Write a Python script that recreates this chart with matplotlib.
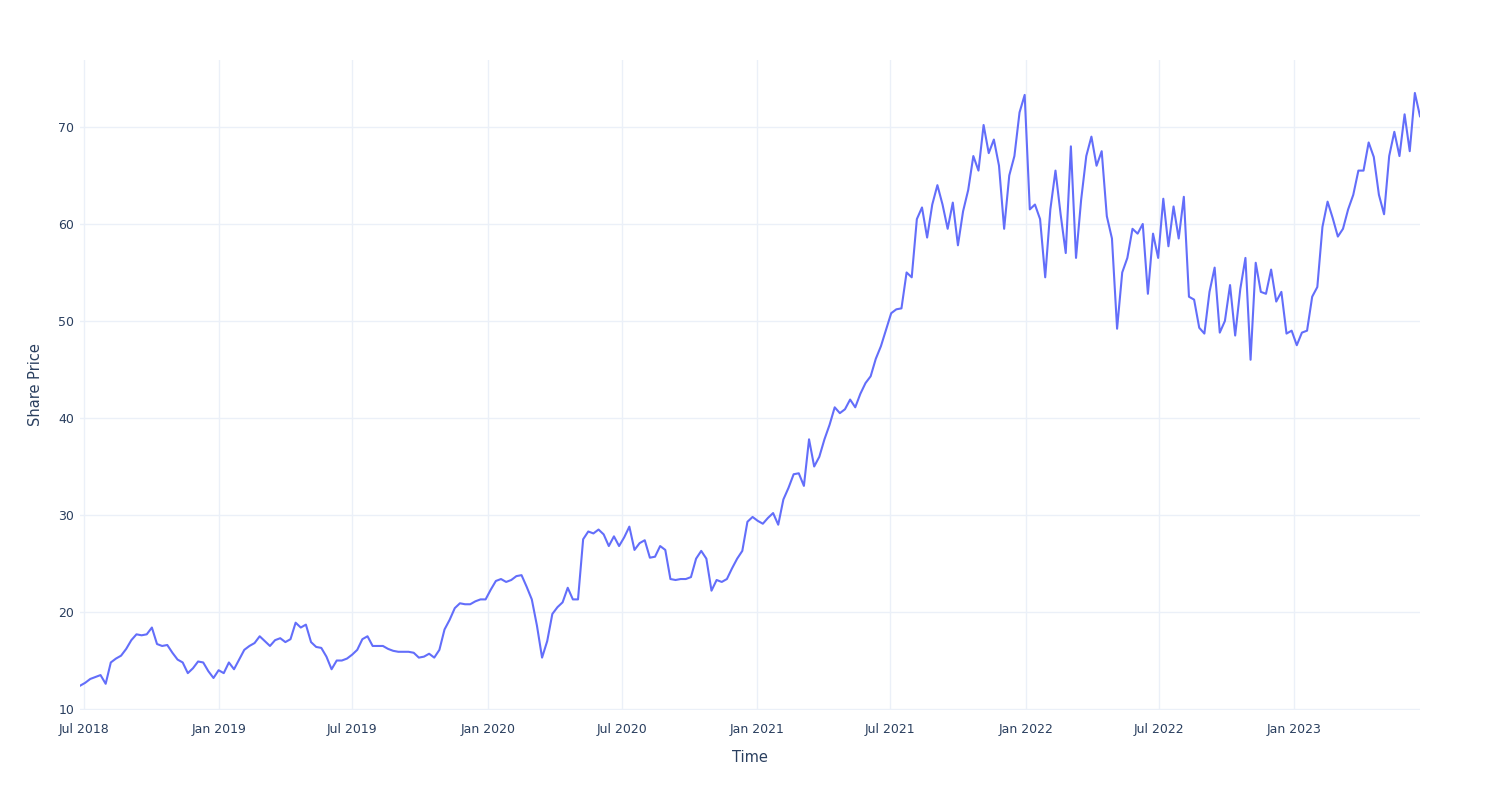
import matplotlib
matplotlib.use("Agg")
import matplotlib.pyplot as plt
import matplotlib.dates as mdates
import pandas as pd

# weekly closing prices
start_date = "2018-06-26"
end_date = "2023-06-21"
share_price = [
    12.4, 12.7, 13.1, 13.3, 13.5, 12.6, 14.8, 15.2, 15.5, 16.2,
    17.1, 17.7, 17.6, 17.7, 18.4, 16.7, 16.5, 16.6, 15.8, 15.1,
    14.8, 13.7, 14.2, 14.9, 14.8, 13.9, 13.2, 14.0, 13.7, 14.8,
    14.1, 15.1, 16.1, 16.5, 16.8, 17.5, 17.0, 16.5, 17.1, 17.3,
    16.9, 17.2, 18.9, 18.4, 18.7, 16.9, 16.4, 16.3, 15.4, 14.1,
    15.0, 15.0, 15.2, 15.6, 16.1, 17.2, 17.5, 16.5, 16.5, 16.5,
    16.2, 16.0, 15.9, 15.9, 15.9, 15.8, 15.3, 15.4, 15.7, 15.3,
    16.1, 18.2, 19.2, 20.4, 20.9, 20.8, 20.8, 21.1, 21.3, 21.3,
    22.3, 23.2, 23.4, 23.1, 23.3, 23.7, 23.8, 22.6, 21.3, 18.6,
    15.3, 17.0, 19.8, 20.5, 21.0, 22.5, 21.3, 21.3, 27.5, 28.3,
    28.1, 28.5, 28.0, 26.8, 27.8, 26.8, 27.7, 28.8, 26.4, 27.1,
    27.4, 25.6, 25.7, 26.8, 26.4, 23.4, 23.3, 23.4, 23.4, 23.6,
    25.5, 26.3, 25.5, 22.2, 23.3, 23.1, 23.4, 24.5, 25.5, 26.3,
    29.3, 29.8, 29.4, 29.1, 29.7, 30.2, 29.0, 31.6, 32.8, 34.2,
    34.3, 33.0, 37.8, 35.0, 36.0, 37.8, 39.3, 41.1, 40.5, 40.9,
    41.9, 41.1, 42.5, 43.6, 44.3, 46.1, 47.4, 49.1, 50.8, 51.2,
    51.3, 55.0, 54.5, 60.5, 61.7, 58.6, 62.0, 64.0, 62.0, 59.5,
    62.2, 57.8, 61.3, 63.5, 67.0, 65.5, 70.2, 67.3, 68.7, 66.0,
    59.5, 65.0, 67.0, 71.5, 73.3, 61.5, 62.0, 60.5, 54.5, 61.5,
    65.5, 61.0, 57.0, 68.0, 56.5, 62.5, 67.0, 69.0, 66.0, 67.5,
    60.8, 58.5, 49.2, 55.0, 56.5, 59.5, 59.0, 60.0, 52.8, 59.0,
    56.5, 62.6, 57.7, 61.8, 58.5, 62.8, 52.5, 52.2, 49.3, 48.7,
    53.0, 55.5, 48.8, 50.0, 53.7, 48.5, 53.3, 56.5, 46.0, 56.0,
    53.0, 52.8, 55.3, 52.0, 53.0, 48.7, 49.0, 47.5, 48.8, 49.0,
    52.5, 53.5, 59.7, 62.3, 60.6, 58.7, 59.5, 61.5, 63.0, 65.5,
    65.5, 68.4, 66.9, 63.0, 61.0, 67.0, 69.5, 67.0, 71.3, 67.5,
    73.5, 71.1,
]
y_ticks = [10, 20, 30, 40, 50, 60, 70]

dates = pd.date_range(start_date, end_date, periods=len(share_price))

text_color = "#2a3f5f"
grid_color = "#ebf0f8"

fig = plt.figure(figsize=(15, 8), dpi=100)
ax = fig.add_axes([80 / 1500, 1 - 710 / 800, 1340 / 1500, 650 / 800])

ax.plot(dates, share_price, color="#636efa", lw=1.5, solid_joinstyle="round")

ax.set_xlim(dates[0], dates[-1])
ax.set_ylim(9.9, 76.9)
ax.set_yticks(y_ticks)

ax.xaxis.set_major_locator(mdates.MonthLocator(bymonth=[1, 7]))
ax.xaxis.set_major_formatter(mdates.DateFormatter("%b %Y"))

ax.grid(True, color=grid_color, lw=1)
ax.set_axisbelow(True)
for s in ax.spines.values():
    s.set_visible(False)

ax.tick_params(axis="both", length=0, colors=text_color, labelsize=9)
ax.tick_params(axis="x", pad=9.5)
ax.tick_params(axis="y", pad=4)

ax.set_xlabel("Time", color=text_color, fontsize=10.5, labelpad=10)
ax.set_ylabel("Share Price", color=text_color, fontsize=10.5, labelpad=11)

fig.savefig("out.png", dpi=100, facecolor="white")
